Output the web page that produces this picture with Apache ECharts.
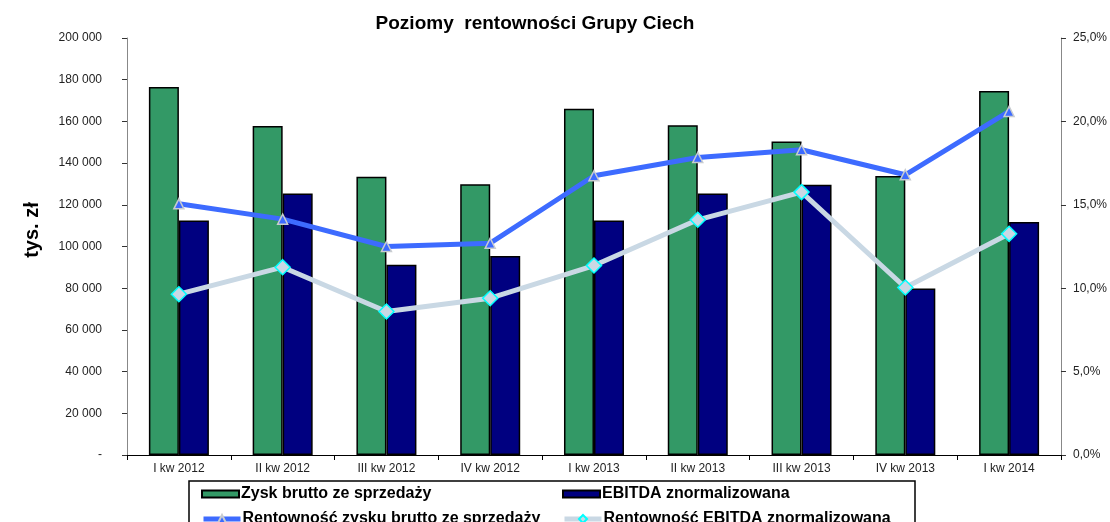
<!DOCTYPE html>
<html>
<head>
<meta charset="utf-8">
<script src="https://cdn.jsdelivr.net/npm/echarts@6/dist/echarts.min.js"></script>
<style>
  html, body { margin: 0; padding: 0; background: #fff; }
  #chart { width: 1110px; height: 522px; }
</style>
</head>
<body>
<div id="chart"></div>
<script>
var dom = document.getElementById("chart");
var myChart = echarts.init(dom);

var quarters = ['I kw 2012', 'II kw 2012', 'III kw 2012', 'IV kw 2012',
    'I kw 2013', 'II kw 2013', 'III kw 2013', 'IV kw 2013', 'I kw 2014'];

// tys. zl
var zyskBrutto = [176500, 157800, 133400, 129900, 166100, 158200, 150400, 133800, 174600];
var ebitda = [112500, 125400, 91300, 95500, 112500, 125400, 129600, 79800, 111700];

// %
var rentZysku = [15.06, 14.14, 12.5, 12.7, 16.74, 17.84, 18.3, 16.8, 20.6];
var rentEbitda = [9.64, 11.26, 8.6, 9.4, 11.36, 14.1, 15.76, 10.04, 13.26];

var seriesNames = ['Zysk brutto ze sprzedaży', 'EBITDA znormalizowana',
    'Rentowność zysku brutto ze sprzedaży', 'Rentowność EBITDA znormalizowana'];

var font = 'Liberation Sans, Arial, sans-serif';

function thousands(v) {
    if (v === 0) return '-';
    return String(v).replace(/\B(?=(\d{3})+(?!\d))/g, ' ');
}

// one legend per item, laid out in two columns like the original box
var legendPos = [[201, 486], [562, 486], [201, 511], [562, 511]];
var legends = seriesNames.map(function (name, i) {
    var isBar = i < 2;
    return {
        data: [name],
        left: legendPos[i][0],
        top: legendPos[i][1],
        padding: 0,
        itemWidth: 37,
        itemHeight: isBar ? 7 : 10,
        icon: isBar ? 'rect' : undefined,
        lineStyle: { width: 5 },
        textStyle: { fontFamily: font, fontSize: 16, fontWeight: 'bold', color: '#000', padding: [0, 0, 0, -3] }
    };
});

var option = {
    animation: false,
    textStyle: { fontFamily: font },
    title: {
        text: 'Poziomy  rentowności Grupy Ciech',
        left: 530,
        textAlign: 'center',
        top: 9,
        textStyle: { fontFamily: font, fontSize: 19, fontWeight: 'bold', color: '#000' }
    },
    grid: { left: 127, right: 47, top: 38, bottom: 67 },
    legend: legends,
    xAxis: [{
        type: 'category',
        data: quarters,
        axisLine: { lineStyle: { color: '#000', width: 1 } },
        axisTick: { show: true, length: 5, lineStyle: { color: '#000' } },
        axisLabel: { fontFamily: font, fontSize: 12, color: '#222', margin: 8 }
    }, {
        type: 'category',
        data: quarters,
        position: 'top',
        axisLine: { lineStyle: { color: '#000', width: 1 } },
        axisTick: { show: false },
        axisLabel: { show: false }
    }],
    yAxis: [{
        type: 'value',
        min: 0,
        max: 200000,
        interval: 20000,
        splitLine: { show: false },
        axisLine: { show: true, lineStyle: { color: '#888' } },
        axisTick: { show: true, length: 5, lineStyle: { color: '#333' } },
        axisLabel: {
            fontFamily: font, fontSize: 12, color: '#222', margin: 25,
            formatter: thousands
        }
    }, {
        type: 'value',
        min: 0,
        max: 25,
        interval: 5,
        position: 'right',
        splitLine: { show: false },
        axisLine: { show: true, lineStyle: { color: '#888' } },
        axisTick: { show: true, length: 5, lineStyle: { color: '#333' } },
        axisLabel: {
            fontFamily: font, fontSize: 12, color: '#222', margin: 12,
            formatter: function (v) { return v.toFixed(1).replace('.', ',') + '%'; }
        }
    }],
    series: [{
        name: seriesNames[0],
        type: 'bar',
        data: zyskBrutto,
        barWidth: 30,
        barGap: '0%',
        itemStyle: { color: '#339966', borderColor: '#000', borderWidth: 1.5 }
    }, {
        name: seriesNames[1],
        type: 'bar',
        data: ebitda,
        barWidth: 30,
        barGap: '0%',
        itemStyle: { color: '#000080', borderColor: '#000', borderWidth: 1.5 }
    }, {
        name: seriesNames[2],
        type: 'line',
        yAxisIndex: 1,
        data: rentZysku,
        symbol: 'triangle',
        symbolSize: 10,
        lineStyle: { color: '#3D6BFF', width: 5 },
        itemStyle: { color: '#3D6BFF', borderColor: '#C8CCD0', borderWidth: 1.5 },
        z: 5
    }, {
        name: seriesNames[3],
        type: 'line',
        yAxisIndex: 1,
        data: rentEbitda,
        symbol: 'diamond',
        symbolSize: 15,
        lineStyle: { color: '#C9D8E4', width: 5 },
        itemStyle: { color: '#C9D8E4', borderColor: '#00FFFF', borderWidth: 1.5 },
        z: 5
    }],
    graphic: [{
        type: 'text',
        x: 32,
        y: 230,
        rotation: Math.PI / 2,
        style: {
            text: 'tys. zł',
            font: 'bold 20px ' + font,
            fill: '#000',
            textAlign: 'center',
            textVerticalAlign: 'middle'
        }
    }, {
        type: 'text',
        x: 992,
        y: 283,
        style: {
            text: '%',
            font: 'bold 16px ' + font,
            fill: '#000',
            textAlign: 'center',
            textVerticalAlign: 'middle'
        }
    }, {
        type: 'rect',
        shape: { x: 189, y: 481, width: 726, height: 60 },
        style: { fill: null, stroke: '#000', lineWidth: 1.5 },
        silent: true
    }]
};

if (option && typeof option === "object") {
    myChart.setOption(option, true);
}
</script>
</body>
</html>
